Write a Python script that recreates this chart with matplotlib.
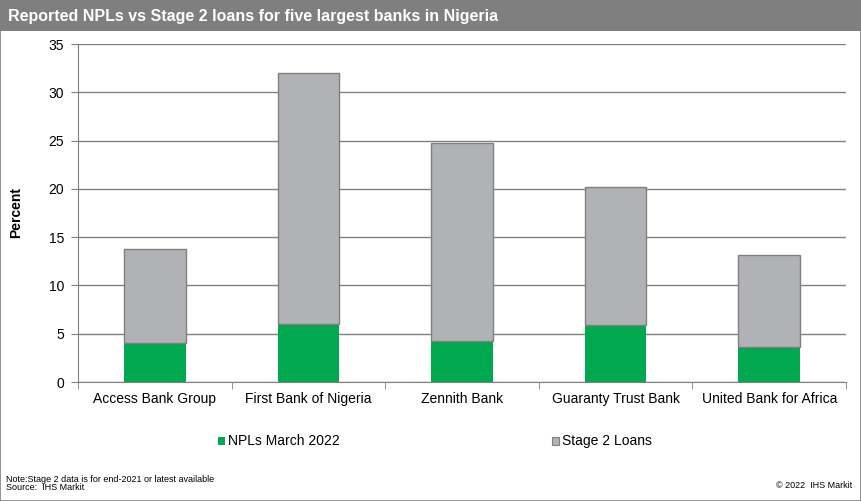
import matplotlib.pyplot as plt
from matplotlib.patches import Rectangle
import numpy as np

plt.rcParams['font.family'] = ['Liberation Sans', 'DejaVu Sans']

banks = ['Access Bank Group', 'First Bank of Nigeria', 'Zennith Bank',
         'Guaranty Trust Bank', 'United Bank for Africa']
npls = [4.0, 6.0, 4.2, 5.9, 3.6]
stage2 = [9.8, 26.0, 20.5, 14.3, 9.6]

green = '#00a84f'
grey = '#b1b2b6'
edge = '#808080'

fig = plt.figure(figsize=(8.62, 5.01), dpi=100)
W, H = 862, 501

# title band and outer frame
fig.patches.append(Rectangle((0, 1 - 31 / H), 1, 31 / H, transform=fig.transFigure,
                             facecolor='#7f7f7f', edgecolor='none'))
fig.patches.append(Rectangle((0.5 / W, 0.5 / H), 1 - 1.5 / W, 1 - 1 / H, transform=fig.transFigure,
                             facecolor='none', edgecolor='#7f7f7f', lw=1.2))
fig.text(8 / W, 1 - 16 / H, 'Reported NPLs vs Stage 2 loans for five largest banks in Nigeria',
         color='white', fontsize=11.5, fontweight='bold', va='center', ha='left')

ax = fig.add_axes([78 / W, 1 - 382 / H, (846 - 78) / W, (382 - 44) / H])
x = np.arange(len(banks))
ax.bar(x, npls, width=0.4, color=green, edgecolor=edge, linewidth=0, zorder=3,
       label='NPLs March 2022')
ax.bar(x, stage2, bottom=npls, width=0.4, color=grey, edgecolor=edge, linewidth=1, zorder=3,
       label='Stage 2 Loans')

ax.set_xlim(-0.5, len(banks) - 0.5)
ax.set_ylim(0, 35)
ax.set_yticks(range(0, 36, 5))
ax.yaxis.grid(True, color=edge, lw=1)
ax.set_axisbelow(True)
ax.set_xticks(x)
ax.set_xticklabels(banks, fontsize=10)
ax.set_xticks(np.arange(-0.5, len(banks), 1), minor=True)
ax.tick_params(axis='x', which='major', length=0, pad=7)
ax.tick_params(axis='x', which='minor', length=5, color=edge)
ax.tick_params(axis='y', length=5, color=edge, labelsize=10, pad=5)
for s in ['top', 'right']:
    ax.spines[s].set_visible(False)
for s in ['left', 'bottom']:
    ax.spines[s].set_color(edge)
ax.set_ylabel('Percent', fontsize=10, fontweight='bold')
ax.yaxis.set_label_coords(-55 / 768, 0.5)

# legend
fig.patches.append(Rectangle((218 / W, 1 - 445 / H), 7 / W, 8 / H, transform=fig.transFigure,
                             facecolor=green, edgecolor='none'))
fig.text(228 / W, 1 - 441 / H, 'NPLs March 2022', fontsize=10, va='center')
fig.patches.append(Rectangle((552 / W, 1 - 445 / H), 7 / W, 8 / H, transform=fig.transFigure,
                             facecolor=grey, edgecolor=edge, lw=0.8))
fig.text(562 / W, 1 - 441 / H, 'Stage 2 Loans', fontsize=10, va='center')

fig.text(6 / W, 1 - 479 / H, 'Note:Stage 2 data is for end-2021 or latest available',
         fontsize=6.5, va='center')
fig.text(6 / W, 1 - 488 / H, 'Source:  IHS Markit', fontsize=6.5, va='center')
fig.text(852 / W, 1 - 486 / H, '\u00a9 2022  IHS Markit', fontsize=6.5, va='center', ha='right')

fig.savefig('out.png', dpi=100)
